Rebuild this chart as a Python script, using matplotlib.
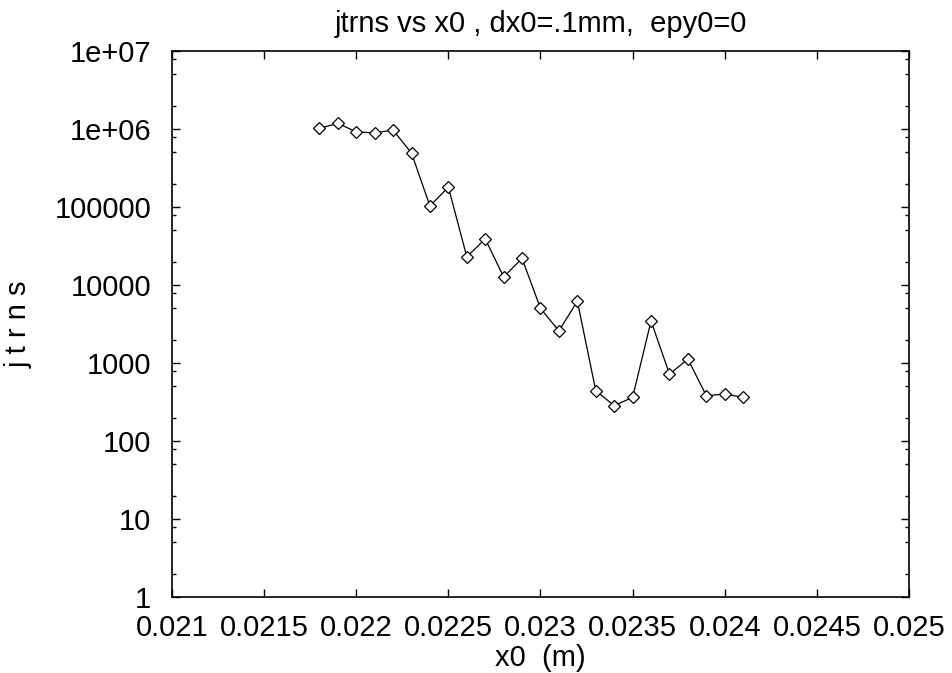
import numpy as np
import matplotlib.pyplot as plt
from matplotlib.ticker import LogLocator

# data
x0 = [0.0218, 0.0219, 0.0220, 0.0221, 0.0222, 0.0223, 0.0224, 0.0225,
      0.0226, 0.0227, 0.0228, 0.0229, 0.0230, 0.0231, 0.0232, 0.0233,
      0.0234, 0.0235, 0.0236, 0.0237, 0.0238, 0.0239, 0.0240, 0.0241]
jtrns = [1.02e6, 1.18e6, 9.2e5, 8.9e5, 9.7e5, 4.9e5, 1.03e5, 1.8e5,
         2.3e4, 3.9e4, 1.27e4, 2.19e4, 5.0e3, 2.58e3, 6.2e3, 442,
         284, 363, 3460, 721, 1122, 381, 400, 363]

xticks = [0.021, 0.0215, 0.022, 0.0225, 0.023, 0.0235, 0.024, 0.0245, 0.025]
xtick_labels = ['0.021', '0.0215', '0.022', '0.0225', '0.023', '0.0235',
                '0.024', '0.0245', '0.025']
yticks = [1, 10, 100, 1000, 10000, 100000, 1e6, 1e7]
ytick_labels = ['1', '10', '100', '1000', '10000', '100000', '1e+06', '1e+07']

plt.rcParams['font.family'] = 'Liberation Sans'
fs = 21

fig = plt.figure(figsize=(9.53, 6.73), dpi=100)
ax = fig.add_axes([172/953, 1-597/673, (909-172)/953, (597-51)/673])

ax.plot(x0, jtrns, color='k', linewidth=0.9, marker='D', markersize=6,
        markerfacecolor='white', markeredgecolor='k', markeredgewidth=0.9)

ax.set_yscale('log')
ax.set_xlim(0.021, 0.025)
ax.set_ylim(1, 1e7)
ax.set_xticks(xticks)
ax.set_xticklabels(xtick_labels, fontsize=fs)
ax.set_yticks(yticks)
ax.set_yticklabels(ytick_labels, fontsize=fs)
ax.yaxis.set_minor_locator(LogLocator(base=10, subs=[2, 5, 8]))
ax.yaxis.set_minor_formatter(plt.NullFormatter())

ax.tick_params(which='both', direction='in', top=True, right=True, width=1)
ax.tick_params(which='major', length=6)
ax.tick_params(which='minor', length=3)
ax.tick_params(axis='x', pad=12.5)
ax.tick_params(axis='y', pad=15)
for s in ax.spines.values():
    s.set_linewidth(1.2)

ax.set_xlabel('x0  (m)', fontsize=fs, labelpad=1)
ax.set_ylabel('j t r n s', fontsize=fs, labelpad=16)
ax.set_title('jtrns vs x0 , dx0=.1mm,  epy0=0', fontsize=fs, pad=13.7)

fig.savefig('out.png', dpi=100)
